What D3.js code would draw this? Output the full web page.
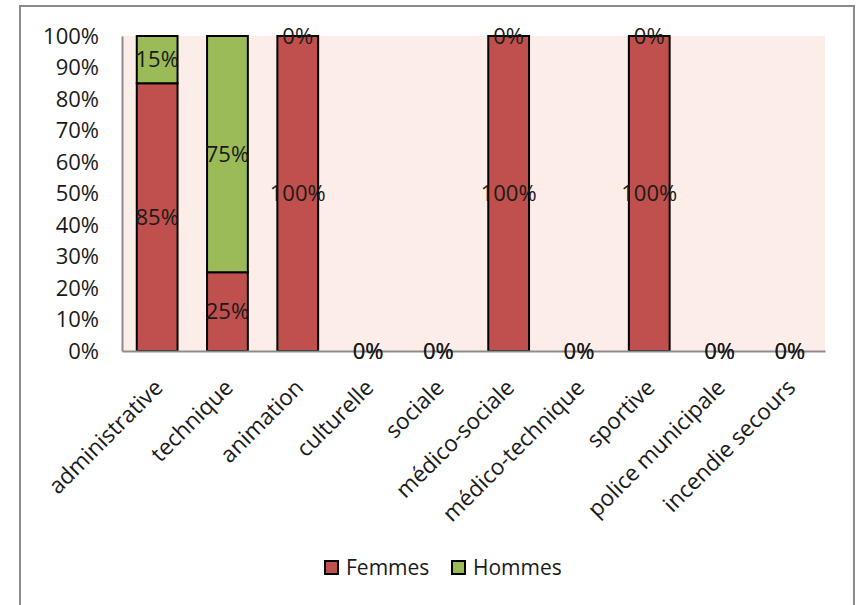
<!DOCTYPE html>
<html><head><meta charset="utf-8">
<script src="https://cdn.jsdelivr.net/npm/d3@7"></script>
<style>
html,body{margin:0;padding:0;background:#fff;}
text{font-family:"Open Sans",sans-serif;}
</style></head>
<body>
<svg id="c" width="862" height="605"></svg>
<script>
const categories = ["administrative","technique","animation","culturelle","sociale","médico-sociale","médico-technique","sportive","police municipale","incendie secours"];
const femmes = [85,25,100,0,0,100,0,100,0,0];
const hommes = [15,75,0,0,0,0,0,0,0,0];
const yTicks = [0,10,20,30,40,50,60,70,80,90,100];
const seriesNames = ["Femmes","Hommes"];
const seriesColors = ["#C0504D","#9BBB59"];

const svg = d3.select("#c");
// outer chart border
svg.append("rect").attr("x",20).attr("y",6).attr("width",834).attr("height",640)
  .attr("fill","#fff").attr("stroke","#8c8c8c").attr("stroke-width",2);

const m = {left:122, right:825, top:36, bottom:351};
const x = d3.scaleBand().domain(categories).range([m.left,m.right]).padding(0);
const y = d3.scaleLinear().domain([0,100]).range([m.bottom,m.top]);

svg.append("rect").attr("x",m.left).attr("y",m.top).attr("width",m.right-m.left).attr("height",m.bottom-m.top)
  .attr("fill","#FCEDE9");

const bw = x.bandwidth()*0.58;
const data = categories.map((c,i)=>({c, f:femmes[i], h:hommes[i]}));
const g = svg.append("g");
data.forEach(d=>{
  const cx = x(d.c)+x.bandwidth()/2;
  const segs = [{v0:0,v1:d.f,col:seriesColors[0]},{v0:d.f,v1:d.f+d.h,col:seriesColors[1]}];
  segs.forEach(s=>{
    if(s.v1>s.v0){
      g.append("rect").attr("x",cx-bw/2).attr("y",y(s.v1)).attr("width",bw).attr("height",y(s.v0)-y(s.v1))
        .attr("fill",s.col).attr("stroke","#000").attr("stroke-width",2);
    }
  });
});

// axes
const yAxis = d3.axisLeft(y).tickValues(yTicks).tickSize(0).tickPadding(23).tickFormat(d=>d+"%");
const ya = svg.append("g").attr("transform",`translate(${m.left},0)`).call(yAxis);
ya.select(".domain").attr("stroke","#8c8c8c").attr("stroke-width",2);
ya.selectAll("text").attr("font-size",22).attr("fill","#1a1a1a").attr("font-family","Open Sans");

const xAxis = d3.axisBottom(x).tickSize(0).tickFormat(d=>d);
const xa = svg.append("g").attr("transform",`translate(0,${m.bottom})`).call(xAxis);
xa.select(".domain").attr("stroke","#8c8c8c").attr("stroke-width",2);
xa.selectAll("text").attr("font-size",22.5).attr("fill","#1a1a1a").attr("font-family","Open Sans")
  .attr("text-anchor","end").attr("dy",0).attr("y",0)
  .attr("transform","translate(7,38) rotate(-45)");

// data labels
const lab = svg.append("g");
data.forEach(d=>{
  const cx = x(d.c)+x.bandwidth()/2;
  [[0,d.f],[d.f,d.f+d.h]].forEach(([a,b])=>{
    lab.append("text").attr("x",cx).attr("y",y((a+b)/2)).attr("dy","0.35em")
      .attr("text-anchor","middle").attr("font-size",22).attr("fill","#1a1a1a")
      .text((b-a)+"%");
  });
});

// legend
const leg = svg.append("g");
const lx = [325,452];
seriesNames.forEach((n,i)=>{
  leg.append("rect").attr("x",lx[i]).attr("y",561).attr("width",13).attr("height",13)
    .attr("fill",seriesColors[i]).attr("stroke","#000").attr("stroke-width",2);
  leg.append("text").attr("x",lx[i]+21).attr("y",575).attr("font-size",21).attr("fill","#1a1a1a").text(n);
});
</script>
</body></html>
